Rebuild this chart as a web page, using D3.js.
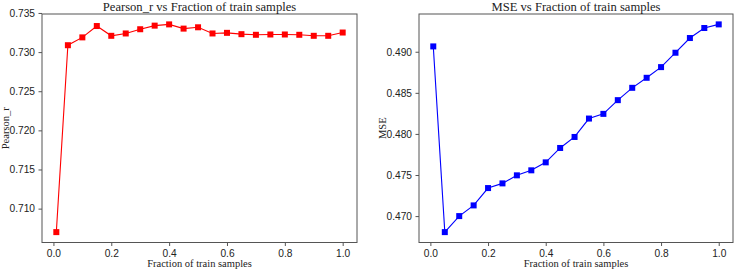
<!DOCTYPE html>
<html>
<head>
<meta charset="utf-8">
<script src="https://cdn.jsdelivr.net/npm/d3@7"></script>
<style>
	body { margin: 0; background: #fff; }
	svg { font-family: "Liberation Serif", "DejaVu Serif", serif; }
	.tick text { font-size: 10.2px; fill: #222; }
	.tick line { stroke: #555; }
</style>
</head>
<body>
<script>
// Data
var fractions = [0.01, 0.05, 0.10, 0.15, 0.20, 0.25, 0.30, 0.35, 0.40, 0.45, 0.50,
		0.55, 0.60, 0.65, 0.70, 0.75, 0.80, 0.85, 0.90, 0.95, 1.00];
var pearsonR = [0.7070, 0.73088, 0.73188, 0.73333, 0.73208, 0.73238, 0.73292, 0.73338, 0.73354, 0.73300, 0.73317,
		0.73238, 0.73246, 0.73229, 0.73221, 0.73225, 0.73225, 0.73221, 0.73208, 0.73208, 0.73250];
var mse = [0.49065, 0.46805, 0.47000, 0.47130, 0.47341, 0.47398, 0.47496, 0.47557, 0.47654, 0.47829, 0.47963,
		0.48187, 0.48244, 0.48411, 0.48561, 0.48683, 0.48813, 0.48988, 0.49167, 0.49289, 0.49333];
var xTicks = [0.0, 0.2, 0.4, 0.6, 0.8, 1.0];
var pearsonTicks = [0.710, 0.715, 0.720, 0.725, 0.730, 0.735];
var mseTicks = [0.470, 0.475, 0.480, 0.485, 0.490];

var svg = d3.select("body").append("svg")
		.attr("width", 735)
		.attr("height", 271);

// matplotlib-style 5% padding
function padded(values) {
	var ext = d3.extent(values), m = (ext[1] - ext[0]) * 0.05;
	return [ext[0] - m, ext[1] + m];
}

function panel(opts) {
	var x = d3.scaleLinear().domain(padded(fractions)).range([opts.left, opts.right]);
	var y = d3.scaleLinear().domain(padded(opts.values)).range([opts.bottom, opts.top]);
	var g = svg.append("g");

	g.append("g")
			.attr("transform", "translate(0," + opts.bottom + ")")
			.call(d3.axisBottom(x).tickValues(xTicks).tickFormat(d3.format(".1f")).tickSizeInner(3.5).tickSizeOuter(0).tickPadding(3.5));
	g.append("g")
			.attr("transform", "translate(" + opts.left + ",0)")
			.call(d3.axisLeft(y).tickValues(opts.ticks).tickFormat(d3.format(".3f")).tickSizeInner(3.5).tickSizeOuter(0).tickPadding(3.5));
	g.selectAll(".domain").remove();

	g.append("rect")
			.attr("x", opts.left).attr("y", opts.top)
			.attr("width", opts.right - opts.left).attr("height", opts.bottom - opts.top)
			.attr("fill", "none").attr("stroke", "#555").attr("stroke-width", 1);

	var pts = fractions.map(function(f, i) { return [f, opts.values[i]]; });
	g.append("path")
			.attr("d", d3.line().x(function(d) { return x(d[0]); }).y(function(d) { return y(d[1]); })(pts))
			.attr("fill", "none").attr("stroke", opts.color).attr("stroke-width", 1.1);
	g.selectAll(".mark").data(pts).enter().append("rect")
			.attr("x", function(d) { return x(d[0]) - 3; })
			.attr("y", function(d) { return y(d[1]) - 3; })
			.attr("width", 6).attr("height", 6)
			.attr("fill", opts.color);

	g.append("text")
			.attr("x", (opts.left + opts.right) / 2).attr("y", opts.top - 3)
			.attr("text-anchor", "middle").attr("font-size", 12.6).attr("fill", "#222")
			.text(opts.title);
	g.append("text")
			.attr("x", (opts.left + opts.right) / 2).attr("y", 267)
			.attr("text-anchor", "middle").attr("font-size", 10.5).attr("fill", "#222")
			.text("Fraction of train samples");
	g.append("text")
			.attr("transform", "translate(" + opts.ylabelX + "," + (opts.top + opts.bottom) / 2 + ") rotate(-90)")
			.attr("text-anchor", "middle").attr("font-size", 10.5).attr("fill", "#222")
			.text(opts.ylabel);
}

panel({left: 42, right: 357, top: 14, bottom: 242.5, values: pearsonR, ticks: pearsonTicks,
		color: "#ff0000", title: "Pearson_r vs Fraction of train samples", ylabel: "Pearson_r", ylabelX: 9});
panel({left: 419, right: 733, top: 14, bottom: 242.5, values: mse, ticks: mseTicks,
		color: "#0000ff", title: "MSE vs Fraction of train samples", ylabel: "MSE", ylabelX: 386});
</script>
</body>
</html>
